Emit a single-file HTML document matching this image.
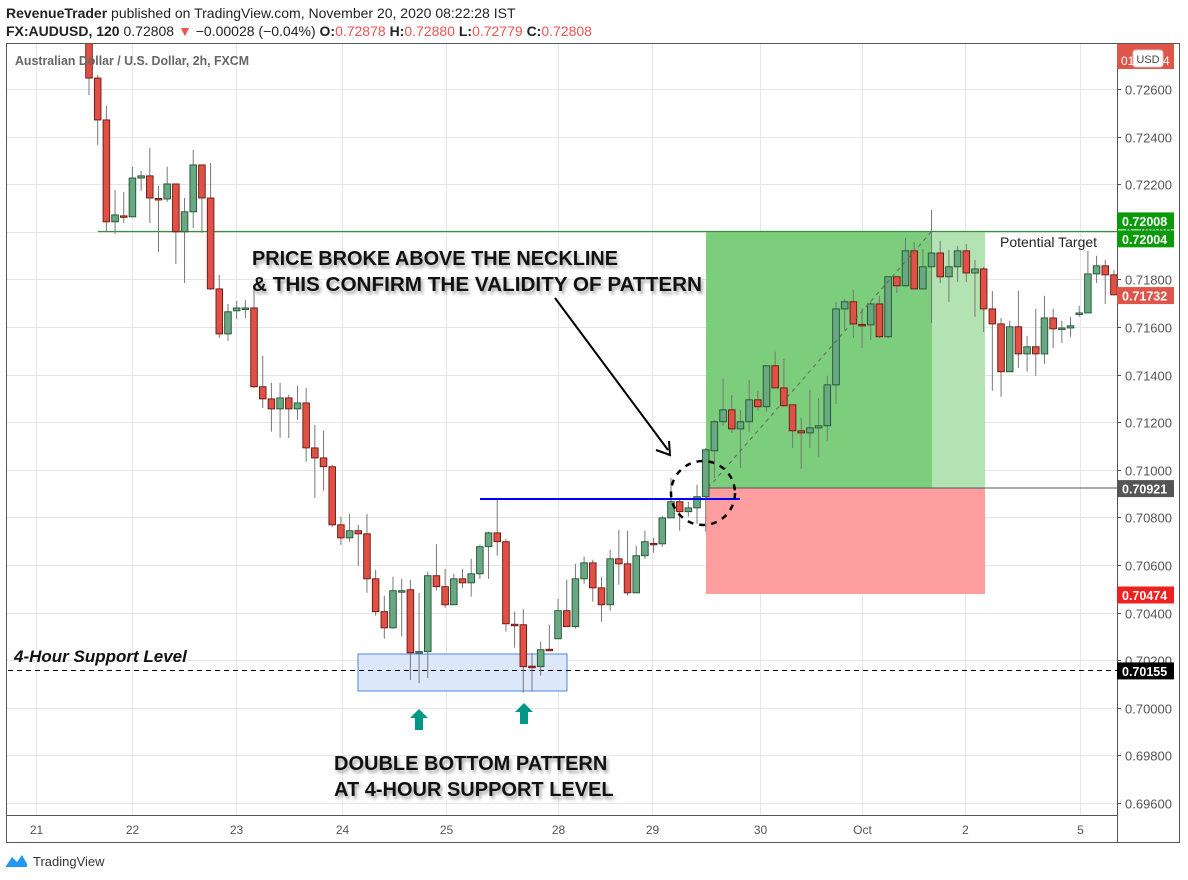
<!DOCTYPE html>
<html><head><meta charset="utf-8"><style>
body{margin:0;background:#fff;font-family:"Liberation Sans",sans-serif}
svg{display:block}
</style></head><body>
<svg id="c" width="1188" height="880" viewBox="0 0 1188 880" xmlns="http://www.w3.org/2000/svg">
<defs><clipPath id="plot"><rect x="7" y="44" width="1110" height="771"/></clipPath></defs>
<rect x="0" y="0" width="1188" height="880" fill="#fff"/>
<text x="6" y="18" font-size="14" fill="#222"><tspan font-weight="bold">RevenueTrader</tspan> published on TradingView.com, November 20, 2020 08:22:28 IST</text>
<text x="6" y="36" font-size="14" fill="#222"><tspan font-weight="bold">FX:AUDUSD, 120</tspan> 0.72808 <tspan fill="#ef5350">▼</tspan> −0.00028 (−0.04%) <tspan font-weight="bold">O:</tspan><tspan fill="#ef5350">0.72878</tspan> <tspan font-weight="bold">H:</tspan><tspan fill="#ef5350">0.72880</tspan> <tspan font-weight="bold">L:</tspan><tspan fill="#ef5350">0.72779</tspan> <tspan font-weight="bold">C:</tspan><tspan fill="#ef5350">0.72808</tspan></text>
<g id="grid"></g>
<g id="zones">
<rect x="706" y="231" width="226" height="257" fill="#7ccd7c"/>
<rect x="932" y="231" width="53" height="257" fill="#b3e2b3"/>
<rect x="706" y="488" width="279" height="106" fill="#ff9e9e"/>
<line x1="706" y1="488" x2="1117" y2="488" stroke="#555" stroke-width="1"/>
<rect x="358" y="654" width="209" height="37" fill="#dde8fa" stroke="#4a86e8" stroke-width="1"/>
</g>
<line x1="98" y1="231.5" x2="1117" y2="231.5" stroke="#3a8f3a" stroke-width="1.2"/>
<line x1="8" y1="670.5" x2="1117" y2="670.5" stroke="#000" stroke-width="1" stroke-dasharray="5,4"/>
<g id="candles" clip-path="url(#plot)"></g>
<line x1="708" y1="488" x2="932" y2="231" stroke="#666" stroke-width="1" stroke-dasharray="4,4"/>
<line x1="480" y1="499" x2="740" y2="499" stroke="#0000ff" stroke-width="2"/>
<circle cx="703" cy="493" r="32" fill="none" stroke="#000" stroke-width="2.5" stroke-dasharray="6,6"/>
<line x1="555" y1="298" x2="668" y2="450" stroke="#000" stroke-width="2"/>
<polyline points="656,450 670,455 669,441" fill="none" stroke="#000" stroke-width="2"/>
<g font-family="Liberation Sans, sans-serif" font-weight="bold" font-size="20" fill="#111" style="text-shadow:2px 3px 3px rgba(0,0,0,.35)">
<text x="252" y="265" textLength="366" lengthAdjust="spacingAndGlyphs">PRICE BROKE ABOVE THE NECKLINE</text>
<text x="252" y="291" textLength="450" lengthAdjust="spacingAndGlyphs">&amp; THIS CONFIRM THE VALIDITY OF PATTERN</text>
<text x="334" y="770">DOUBLE BOTTOM PATTERN</text>
<text x="334" y="796">AT 4-HOUR SUPPORT LEVEL</text>
</g>
<text x="14" y="662" font-size="17" font-weight="bold" font-style="italic" fill="#111">4-Hour Support Level</text>
<polygon points="419,709 428,718 423,718 423,730 415,730 415,718 410,718" fill="#009688"/>
<polygon points="524,703 533,712 528,712 528,724 520,724 520,712 515,712" fill="#009688"/>
<text x="1000" y="247" font-size="14" fill="#222">Potential Target</text>
<text x="15" y="65" font-size="13" font-weight="bold" fill="#666" textLength="234" lengthAdjust="spacingAndGlyphs">Australian Dollar / U.S. Dollar, 2h, FXCM</text>
<rect x="6.5" y="43.5" width="1173" height="799" fill="none" stroke="#555" stroke-width="1"/>
<line x1="1117.5" y1="43" x2="1117.5" y2="843" stroke="#555"/>
<line x1="6" y1="815.5" x2="1118" y2="815.5" stroke="#555"/>
<g id="yaxis"></g>
<g id="xaxis"></g>
<g id="labels"></g>
<rect x="1117" y="44" width="57" height="8" fill="#e0554a"/>
<rect x="1117" y="52" width="57" height="17" fill="#e0554a"/>
<text x="1121" y="65" font-size="12" fill="#fff">01</text><text x="1163" y="65" font-size="12" fill="#fff">4</text>
<rect x="1133" y="50" width="30" height="17" rx="3" fill="#fff" stroke="#ccc"/>
<text x="1148" y="63" font-size="11" fill="#444" text-anchor="middle">USD</text>
<g>
<path d="M6,866 L12,857 L17,862 L22,855 L27,864 L27,867 L6,867 Z" fill="#2196f3"/>
<text x="33" y="866" font-size="13" fill="#333">TradingView</text>
</g>
</svg>
<script>
const open=[0.72793,0.72646,0.72470,0.72042,0.72067,0.72063,0.72226,0.72235,0.72140,0.72138,0.72201,0.72000,0.72084,0.72281,0.72142,0.71760,0.71571,0.71668,0.71676,0.71680,0.71349,0.71298,0.71256,0.71302,0.71256,0.71281,0.71092,0.71050,0.71013,0.70769,0.70714,0.70744,0.70731,0.70542,0.70404,0.70336,0.70490,0.70496,0.70231,0.70236,0.70555,0.70509,0.70433,0.70542,0.70525,0.70563,0.70677,0.70735,0.70698,0.70351,0.70349,0.70175,0.70173,0.70246,0.70290,0.70408,0.70341,0.70542,0.70609,0.70504,0.70433,0.70626,0.70605,0.70483,0.70639,0.70691,0.70689,0.70798,0.70866,0.70824,0.70840,0.70887,0.71080,0.71202,0.71252,0.71172,0.71202,0.71294,0.71265,0.71437,0.71344,0.71273,0.71164,0.71155,0.71176,0.71185,0.71357,0.71676,0.71706,0.71611,0.71609,0.71697,0.71559,0.71811,0.71773,0.71920,0.71760,0.71853,0.71911,0.71811,0.71853,0.71920,0.71827,0.71844,0.71676,0.71613,0.71412,0.71601,0.71487,0.71517,0.71487,0.71638,0.71594,0.71596,0.71655,0.71659,0.71823,0.71857,0.71819];
const high=[0.72827,0.72659,0.72529,0.72176,0.72168,0.72273,0.72256,0.72352,0.72193,0.72273,0.72201,0.72142,0.72344,0.72281,0.72289,0.71819,0.71697,0.71710,0.71714,0.71756,0.71479,0.71365,0.71365,0.71315,0.71353,0.71344,0.71189,0.71164,0.71021,0.70803,0.70815,0.70769,0.70815,0.70580,0.70471,0.70551,0.70542,0.70538,0.70483,0.70572,0.70687,0.70584,0.70563,0.70584,0.70626,0.70685,0.70740,0.70874,0.70710,0.70404,0.70416,0.70231,0.70278,0.70349,0.70458,0.70538,0.70605,0.70635,0.70622,0.70551,0.70664,0.70748,0.70744,0.70681,0.70744,0.70714,0.70807,0.70966,0.70882,0.70866,0.70937,0.71092,0.71210,0.71382,0.71314,0.71252,0.71378,0.71332,0.71437,0.71496,0.71466,0.71273,0.71218,0.71336,0.71302,0.71395,0.71706,0.71718,0.71756,0.71680,0.71710,0.71731,0.71811,0.71811,0.71974,0.71958,0.71928,0.72092,0.71962,0.71924,0.71941,0.71949,0.71882,0.71853,0.71752,0.71638,0.71626,0.71752,0.71563,0.71676,0.71731,0.71676,0.71626,0.71643,0.71689,0.71920,0.71899,0.71882,0.71839];
const low=[0.72575,0.72365,0.72000,0.71991,0.72037,0.72063,0.72172,0.72037,0.71916,0.72126,0.71865,0.71785,0.72016,0.71995,0.71756,0.71554,0.71542,0.71634,0.71638,0.71344,0.71260,0.71160,0.71134,0.71134,0.71210,0.71034,0.70882,0.70912,0.70761,0.70685,0.70698,0.70597,0.70483,0.70387,0.70290,0.70332,0.70299,0.70117,0.70104,0.70125,0.70492,0.70420,0.70433,0.70504,0.70467,0.70542,0.70542,0.70639,0.70320,0.70252,0.70063,0.70068,0.70135,0.70240,0.70290,0.70341,0.70332,0.70521,0.70446,0.70362,0.70408,0.70517,0.70471,0.70483,0.70626,0.70651,0.70677,0.70798,0.70744,0.70803,0.70773,0.70740,0.70966,0.71185,0.71155,0.71008,0.71160,0.71248,0.71244,0.71344,0.71265,0.71092,0.71004,0.71092,0.71055,0.71122,0.71277,0.71588,0.71554,0.71512,0.71546,0.71554,0.71554,0.71743,0.71773,0.71760,0.71827,0.71617,0.71785,0.71706,0.71789,0.71789,0.71643,0.71579,0.71332,0.71307,0.71470,0.71428,0.71412,0.71395,0.71445,0.71512,0.71533,0.71559,0.71643,0.71785,0.71785,0.71697];
const close=[0.72646,0.72470,0.72042,0.72071,0.72063,0.72226,0.72235,0.72142,0.72138,0.72201,0.72000,0.72084,0.72281,0.72142,0.71760,0.71571,0.71664,0.71680,0.71680,0.71349,0.71298,0.71256,0.71302,0.71256,0.71281,0.71092,0.71050,0.71013,0.70769,0.70714,0.70744,0.70731,0.70542,0.70404,0.70336,0.70492,0.70492,0.70231,0.70236,0.70555,0.70509,0.70433,0.70542,0.70525,0.70563,0.70677,0.70735,0.70698,0.70353,0.70349,0.70173,0.70173,0.70244,0.70244,0.70408,0.70341,0.70542,0.70609,0.70504,0.70433,0.70626,0.70605,0.70483,0.70639,0.70698,0.70689,0.70798,0.70866,0.70824,0.70840,0.70887,0.71084,0.71202,0.71252,0.71172,0.71202,0.71294,0.71265,0.71437,0.71344,0.71269,0.71164,0.71155,0.71176,0.71185,0.71357,0.71676,0.71706,0.71613,0.71609,0.71697,0.71559,0.71811,0.71773,0.71920,0.71760,0.71853,0.71911,0.71811,0.71853,0.71920,0.71827,0.71844,0.71676,0.71613,0.71412,0.71601,0.71487,0.71517,0.71487,0.71638,0.71592,0.71596,0.71605,0.71659,0.71823,0.71857,0.71819,0.71735];
const priceTicks=[0.726,0.724,0.722,0.720,0.718,0.716,0.714,0.712,0.710,0.708,0.706,0.704,0.702,0.700,0.698,0.696];
const dateLabels=["21","22","23","24","25","28","29","30","Oct","2","5"];
const dateIndex=[-6.1,4.95,16.95,29.1,41.1,54.0,64.8,77.3,89.0,100.9,114.1];
const tagValues=[0.72008,0.72004,0.71732,0.70921,0.70474,0.70155];
const tagColors=["#0a9b0a","#0a9b0a","#e0554a","#555","#ee2020","#000"];
const tagShift=[-9,8,0,0,0,0];

const NS="http://www.w3.org/2000/svg";
function y(p){return 89+(0.726-p)*23800;}
function x(i){return 89+i*8.686;}
function mk(t,a,parent){const e=document.createElementNS(NS,t);for(const k in a)e.setAttribute(k,a[k]);parent.appendChild(e);return e;}
const grid=document.getElementById('grid'),cg=document.getElementById('candles'),ya=document.getElementById('yaxis'),xa=document.getElementById('xaxis'),lg=document.getElementById('labels');
priceTicks.forEach(p=>{const yy=Math.round(y(p))+0.5;
 const g=mk('line',{x1:7,x2:1117,y1:yy,y2:yy,stroke:'#e6e6e6'},grid);
 
 
 mk('line',{x1:1117,x2:1121,y1:yy,y2:yy,stroke:'#555'},ya);
 const t=mk('text',{x:1125,y:yy+5,'font-size':13,fill:'#555'},ya);t.textContent=p.toFixed(5);
 
 
});
dateLabels.forEach((d,k)=>{const xx=Math.round(x(dateIndex[k]))+0.5;
 const g=mk('line',{x1:xx,x2:xx,y1:44,y2:815,stroke:'#e6e6e6'},grid);
 
 
 const t=mk('text',{x:xx,y:834,'font-size':12,fill:'#555','text-anchor':'middle'},xa);t.textContent=d;
 
 
});
open.forEach((o,i)=>{const c=close[i];if(c===undefined)return;const up=c>=o,cx=x(i);
 const hi=high[i]!==undefined?high[i]:Math.max(o,c),lo=low[i]!==undefined?low[i]:Math.min(o,c);
 const fill=up?'#6aa884':'#df5144',st=up?'#1e5230':'#6b1410';
 const w=mk('line',{x1:cx,x2:cx,y1:y(hi),y2:y(lo),stroke:'#777','stroke-width':1},cg);
 
 
 const top=y(Math.max(o,c)),h=Math.max(1.5,Math.abs(y(o)-y(c)));
 const b=mk('rect',{x:cx-3.3,y:top,width:6.6,height:h,fill:fill,stroke:st,'stroke-width':0.9},cg);
 
 
});
tagValues.forEach((v,k)=>{const yy=y(v)+tagShift[k];
 const r=mk('rect',{x:1117,y:yy-8.5,width:57,height:17,fill:tagColors[k]},lg);
 
 
 const t=mk('text',{x:1122,y:yy+5,'font-size':12.5,'font-weight':'bold',fill:'#fff'},lg);t.textContent=v.toFixed(5);
 
 
});
</script>
</body></html>
